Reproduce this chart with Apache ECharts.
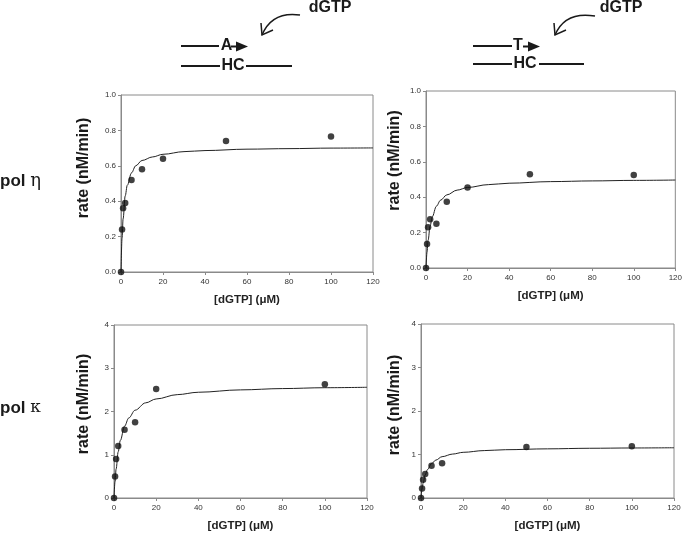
<!DOCTYPE html>
<html>
<head>
<meta charset="utf-8">
<script src="https://cdn.jsdelivr.net/npm/echarts@6/dist/echarts.min.js"></script>
<style>
html,body{margin:0;padding:0;background:#fff;}
#chart{width:685px;height:533px;}
</style>
</head>
<body>
<div id="chart"></div>
<script>
// ---- data ----
// measured points [dGTP µM, rate nM/min]
var etaA_x = [0, 0.5, 1, 2, 5, 10, 20, 50, 100];
var etaA_y = [0, 0.24, 0.36, 0.39, 0.52, 0.58, 0.64, 0.74, 0.765];
var etaT_x = [0, 0.5, 1, 2, 5, 10, 20, 50, 100];
var etaT_y = [0, 0.135, 0.23, 0.275, 0.25, 0.375, 0.455, 0.53, 0.525];
var kapA_x = [0, 0.5, 1, 2, 5, 10, 20, 100];
var kapA_y = [0, 0.5, 0.9, 1.2, 1.58, 1.75, 2.52, 2.63];
var kapT_x = [0, 0.5, 1, 2, 5, 10, 50, 100];
var kapT_y = [0, 0.22, 0.42, 0.55, 0.74, 0.80, 1.17, 1.19];

// fitted curves at these x positions
var curveX = [0, 0.5, 1, 2, 3, 5, 7, 10, 15, 20, 30, 40, 60, 80, 100, 120];
var etaA_fit = [0, 0.19, 0.30, 0.43, 0.49, 0.56, 0.60, 0.63, 0.65, 0.665, 0.68, 0.686, 0.694, 0.697, 0.70, 0.701];
var etaT_fit = [0, 0.09, 0.156, 0.238, 0.289, 0.349, 0.383, 0.413, 0.44, 0.455, 0.471, 0.479, 0.488, 0.492, 0.495, 0.497];
var kapA_fit = [0, 0.38, 0.67, 1.07, 1.33, 1.66, 1.85, 2.03, 2.20, 2.29, 2.39, 2.445, 2.50, 2.53, 2.55, 2.56];
var kapT_fit = [0, 0.20, 0.34, 0.53, 0.65, 0.79, 0.87, 0.95, 1.01, 1.05, 1.09, 1.11, 1.13, 1.143, 1.15, 1.155];

// tick labels
var xTicks = ['0', '20', '40', '60', '80', '100', '120'];
var yTicksEta = ['0.0', '0.2', '0.4', '0.6', '0.8', '1.0'];
var yTicksKap = ['0', '1', '2', '3', '4'];

var xTitle = '[dGTP] (\u03bcM)';
var yTitle = 'rate (nM/min)';

function pairs(xs, ys) { return xs.map(function (x, i) { return [x, ys[i]]; }); }

var FONT = 'Liberation Sans, Arial, Helvetica, sans-serif';
var boxColor = '#8a8a8a';

var grids = [
  {left: 121, top: 95, width: 252, height: 177},
  {left: 426, top: 91, width: 253, height: 177},
  {left: 114, top: 325, width: 253, height: 177},
  {left: 421, top: 324, width: 253, height: 177}
];
grids.forEach(function (g) { g.show = true; g.borderColor = boxColor; g.borderWidth = 1; g.backgroundColor = 'transparent'; });

function xAxisFor(i) {
  return {
    gridIndex: i, type: 'value', min: 0, max: 120, interval: 20,
    name: xTitle, nameLocation: 'middle', nameGap: 22,
    nameTextStyle: {fontFamily: FONT, fontWeight: 'bold', fontSize: 11.5, color: '#222'},
    axisLine: {show: true, lineStyle: {color: boxColor, width: 1}},
    axisTick: {show: true, length: 3, lineStyle: {color: boxColor}},
    axisLabel: {fontFamily: FONT, fontSize: 8, color: '#333', margin: 6,
      formatter: function (v) { return xTicks[Math.round(v / 20)]; }},
    splitLine: {show: false}
  };
}
function yAxisFor(i, eta) {
  return {
    gridIndex: i, type: 'value', min: 0, max: eta ? 1 : 4, interval: eta ? 0.2 : 1,
    axisLine: {show: true, lineStyle: {color: boxColor, width: 1}},
    axisTick: {show: true, length: 3, lineStyle: {color: boxColor}},
    axisLabel: {fontFamily: FONT, fontSize: 8, color: '#333', margin: 5,
      formatter: function (v) {
        return eta ? yTicksEta[Math.round(v / 0.2)] : yTicksKap[Math.round(v)];
      }},
    splitLine: {show: false}
  };
}

var pts = [pairs(etaA_x, etaA_y), pairs(etaT_x, etaT_y), pairs(kapA_x, kapA_y), pairs(kapT_x, kapT_y)];
var fits = [pairs(curveX, etaA_fit), pairs(curveX, etaT_fit), pairs(curveX, kapA_fit), pairs(curveX, kapT_fit)];

var series = [];
for (var i = 0; i < 4; i++) {
  series.push({
    type: 'line', xAxisIndex: i, yAxisIndex: i, data: fits[i],
    smooth: 0.35, smoothMonotone: 'x', showSymbol: false, silent: true,
    lineStyle: {color: '#222', width: 1}, z: 2
  });
  series.push({
    type: 'scatter', xAxisIndex: i, yAxisIndex: i, data: pts[i],
    symbol: 'circle', symbolSize: 6.5, itemStyle: {color: '#111'}, z: 3
  });
}

// annotation graphics
function txt(x, y, s, font, rot) {
  return {type: 'text', x: x, y: y, rotation: rot || 0, z: 10,
    style: {text: s, font: font, fill: '#1a1a1a', textAlign: 'center', textVerticalAlign: 'middle', verticalAlign: 'middle'}};
}
function ln(x1, y1, x2, y2, w) {
  return {type: 'line', z: 10, shape: {x1: x1, y1: y1, x2: x2, y2: y2}, style: {stroke: '#1a1a1a', lineWidth: w || 2}};
}
var bold16 = 'bold 16px ' + FONT;
var ytFont = 'bold 16px ' + FONT;
var graphics = [
  // left diagram
  ln(181, 46, 219, 46), txt(226.5, 46, 'A', bold16),
  ln(231, 46.5, 238, 46.5, 2),
  {type: 'polygon', z: 10, shape: {points: [[236, 41.5], [248, 46.5], [236, 51.5]]}, style: {fill: '#1a1a1a'}},
  ln(181, 66, 220, 66), txt(233, 66, 'HC', bold16), ln(246, 66, 292, 66),
  {type: 'bezierCurve', z: 10, shape: {x1: 300, y1: 15, cpx1: 272, cpy1: 11, x2: 262, y2: 35}, style: {stroke: '#1a1a1a', lineWidth: 1.5, fill: null}},
  {type: 'polyline', z: 10, shape: {points: [[261, 23], [262, 35], [273, 30]]}, style: {stroke: '#1a1a1a', lineWidth: 1.5, fill: null}},
  txt(330, 8, 'dGTP', bold16),
  // right diagram
  ln(473, 46, 512, 46), txt(518, 46, 'T', bold16),
  ln(523, 46.5, 530, 46.5, 2),
  {type: 'polygon', z: 10, shape: {points: [[528, 41.5], [540, 46.5], [528, 51.5]]}, style: {fill: '#1a1a1a'}},
  ln(473, 64, 512, 64), txt(525, 64, 'HC', bold16), ln(539, 64, 584, 64),
  {type: 'bezierCurve', z: 10, shape: {x1: 595, y1: 16, cpx1: 565, cpy1: 11, x2: 555, y2: 35}, style: {stroke: '#1a1a1a', lineWidth: 1.5, fill: null}},
  {type: 'polyline', z: 10, shape: {points: [[554, 23], [555, 35], [566, 30]]}, style: {stroke: '#1a1a1a', lineWidth: 1.5, fill: null}},
  txt(621, 8, 'dGTP', bold16),
  // row labels
  {type: 'text', x: 0, y: 181, z: 10, style: {text: '{b|pol }{g|\u03b7}', textVerticalAlign: 'middle', verticalAlign: 'middle',
    rich: {b: {font: 'bold 17px ' + FONT, fill: '#1a1a1a'}, g: {font: '18px DejaVu Serif, serif', fill: '#1a1a1a'}}}},
  {type: 'text', x: 0, y: 408, z: 10, style: {text: '{b|pol }{g|\u03ba}', textVerticalAlign: 'middle', verticalAlign: 'middle',
    rich: {b: {font: 'bold 17px ' + FONT, fill: '#1a1a1a'}, g: {font: '17px DejaVu Serif, serif', fill: '#1a1a1a'}}}},
  // y axis titles
  txt(83.5, 168, yTitle, ytFont, Math.PI / 2),
  txt(395, 160.5, yTitle, ytFont, Math.PI / 2),
  txt(83.5, 404, yTitle, ytFont, Math.PI / 2),
  txt(395, 405, yTitle, ytFont, Math.PI / 2)
];

var chart = echarts.init(document.getElementById('chart'), null, {renderer: 'canvas'});
chart.setOption({
  animation: false,
  backgroundColor: '#ffffff',
  grid: grids,
  xAxis: [xAxisFor(0), xAxisFor(1), xAxisFor(2), xAxisFor(3)],
  yAxis: [yAxisFor(0, true), yAxisFor(1, true), yAxisFor(2, false), yAxisFor(3, false)],
  series: series,
  graphic: graphics
});
</script>
</body>
</html>
